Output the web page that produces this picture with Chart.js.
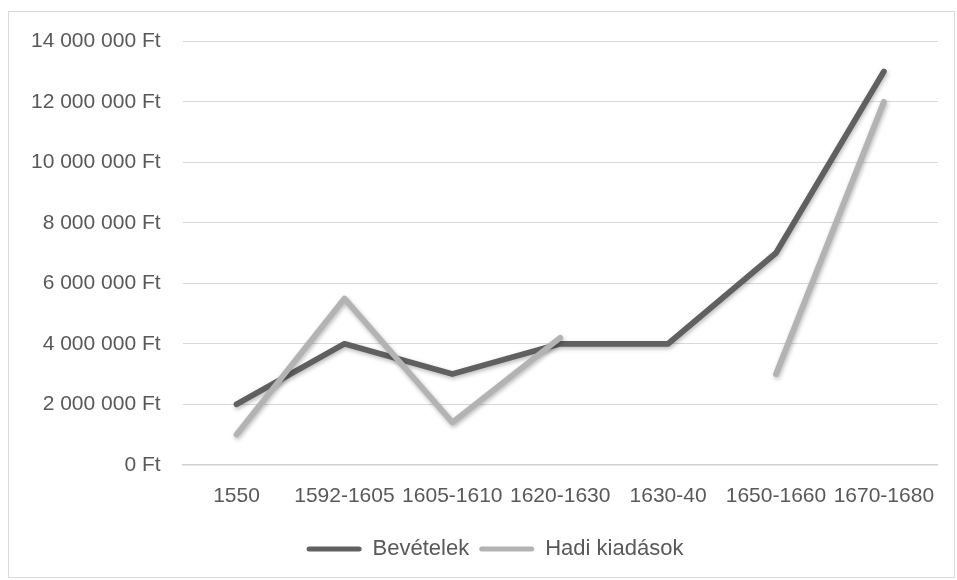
<!DOCTYPE html>
<html>
<head>
<meta charset="utf-8">
<script src="https://cdn.jsdelivr.net/npm/chart.js@4"></script>
<style>
  html, body { margin: 0; padding: 0; background: #fff; }
  #box {
    position: absolute; left: 8px; top: 11px;
    width: 945px; height: 565px;
    border: 1px solid #d9d9d9;
  }
</style>
</head>
<body>
<div id="box"><canvas id="chart"></canvas></div>
<script>
// adatok
const categories = ['1550', '1592-1605', '1605-1610', '1620-1630', '1630-40', '1650-1660', '1670-1680'];
const bevetelek = [2000000, 4000000, 3000000, 4000000, 4000000, 7000000, 13000000];
const hadiKiadasok = [1000000, 5500000, 1400000, 4200000, null, 3000000, 12000000];
const yTicks = [0, 2000000, 4000000, 6000000, 8000000, 10000000, 12000000, 14000000];

const textColor = '#595959';
const tickFont = { family: 'Liberation Sans, Arial, sans-serif', size: 21 };
const yTickFont = { family: 'Liberation Sans, Arial, sans-serif', size: 21, lineHeight: 0.7 };
const legendFont = { family: 'Liberation Sans, Arial, sans-serif', size: 22 };

function ft(v) {
    return String(v).replace(/\B(?=(\d{3})+(?!\d))/g, ' ') + ' Ft';
}

// árnyék a vonalak alá
const shadowPlugin = {
    id: 'shadow',
    beforeDatasetsDraw(chart) {
        const ctx = chart.ctx;
        ctx.save();
        ctx.shadowColor = 'rgba(0,0,0,0.28)';
        ctx.shadowBlur = 4;
        ctx.shadowOffsetX = 1;
        ctx.shadowOffsetY = 2;
    },
    afterDatasetsDraw(chart) {
        chart.ctx.restore();
    }
};

// jelmagyarázat kicsit jobbra, mint az eredetin
const legendShiftPlugin = {
    id: 'legendShift',
    afterLayout(chart) {
        if (chart.legend) {
            chart.legend.left += 20;
            chart.legend.right += 20;
        }
    }
};

const canvas = document.getElementById('chart');
canvas.width = 945;
canvas.height = 565;

new Chart(canvas, {
    type: 'line',
    data: {
        labels: categories,
        datasets: [{
            label: 'Bevételek',
            data: bevetelek,
            borderColor: '#606060',
            backgroundColor: '#606060',
            borderWidth: 5.8,
            borderCapStyle: 'round',
            borderJoinStyle: 'round',
            pointRadius: 0,
            order: 2
        }, {
            label: 'Hadi kiadások',
            data: hadiKiadasok,
            borderColor: '#b3b3b3',
            backgroundColor: '#b3b3b3',
            borderWidth: 5.8,
            borderCapStyle: 'round',
            borderJoinStyle: 'round',
            pointRadius: 0,
            spanGaps: false,
            order: 1
        }]
    },
    options: {
        responsive: false,
        animation: false,
        layout: { padding: { left: 0, right: 13, top: 14, bottom: 7 } },
        scales: {
            x: {
                offset: true,
                grid: { display: false, drawTicks: false },
                border: { display: true, color: '#d0d0d0', width: 1.5 },
                ticks: { color: textColor, font: tickFont, padding: 19, maxRotation: 0, autoSkip: false }
            },
            y: {
                min: 0,
                max: 14000000,
                afterBuildTicks(axis) { axis.ticks = yTicks.map(v => ({ value: v })); },
                grid: { color: '#d9d9d9', lineWidth: 1, drawTicks: false },
                border: { display: false },
                ticks: { color: textColor, font: yTickFont, padding: 22, callback: v => ft(v) }
            }
        },
        plugins: {
            tooltip: { enabled: false },
            legend: {
                position: 'bottom',
                labels: {
                    color: textColor,
                    font: legendFont,
                    boxWidth: 55,
                    boxHeight: 5,
                    padding: 10,
                    useBorderRadius: true,
                    borderRadius: 2.5,
                    sort: (a, b) => a.datasetIndex - b.datasetIndex,
                    generateLabels(chart) {
                        return Chart.defaults.plugins.legend.labels.generateLabels(chart)
                            .map(item => Object.assign(item, { lineWidth: 0 }));
                    }
                }
            }
        }
    },
    plugins: [shadowPlugin, legendShiftPlugin]
});
</script>
</body>
</html>
